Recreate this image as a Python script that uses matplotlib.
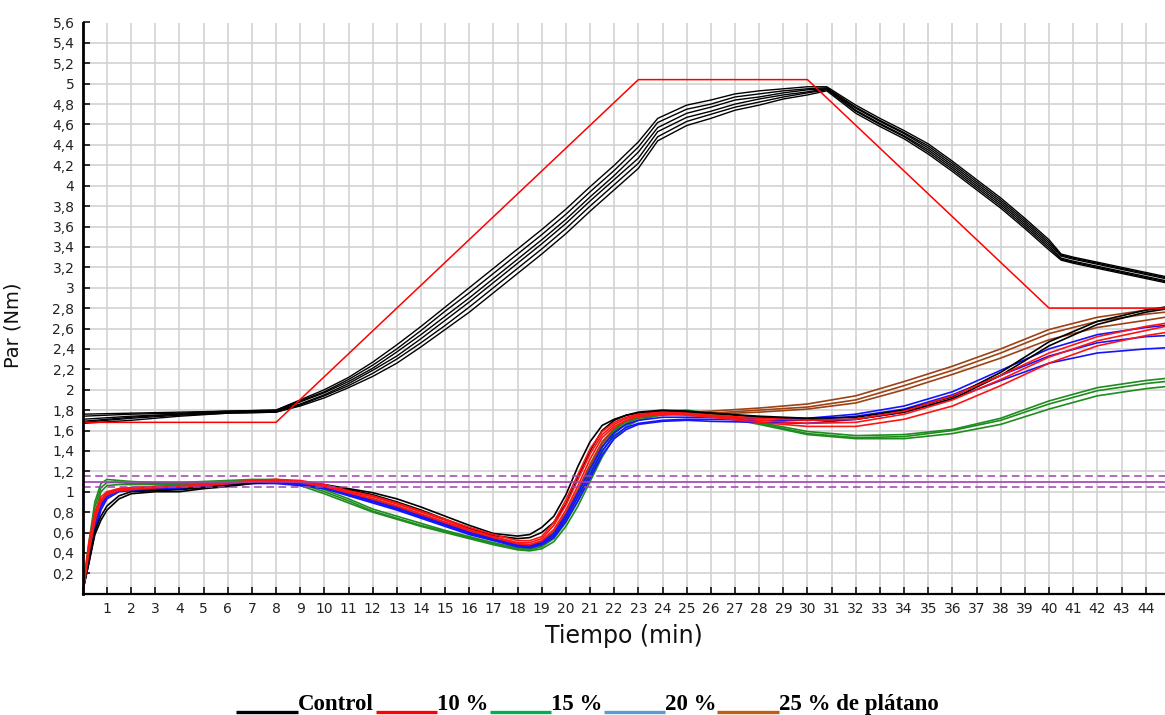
"""Mixolab torque curves: control and banana flour blends."""

import matplotlib

matplotlib.use("Agg")
from matplotlib import pyplot as plt
from matplotlib.lines import Line2D
from matplotlib.ticker import FuncFormatter, MultipleLocator

# red temperature/limit profile
PROFILE_X = [0, 8, 23, 30, 40, 44.8]
PROFILE_Y = [1.68, 1.68, 5.04, 5.04, 2.80, 2.80]

# purple target band (centre and limits)
TARGET = 1.10
TARGET_LIMITS = [1.15, 1.05]

# upper black band (replicates)
UPPER_X = [0, 2, 4, 6, 8, 9, 10, 11, 12, 13, 14, 15, 16, 17, 18, 19, 20, 21, 22, 23, 23.8,
           25, 26, 27, 28, 29, 30, 30.8, 32, 33, 34, 35, 36, 37, 38, 39, 40, 40.5, 41, 42,
           43, 44, 44.8]
UPPER_RUNS = [
    [1.76, 1.77, 1.78, 1.79, 1.80, 1.90, 2.00, 2.12, 2.27, 2.44, 2.62, 2.81, 3.00, 3.19, 3.38,
     3.57, 3.77, 3.99, 4.20, 4.43, 4.66, 4.79, 4.84, 4.90, 4.93, 4.95, 4.97, 4.97, 4.79, 4.66,
     4.54, 4.41, 4.24, 4.06, 3.88, 3.68, 3.47, 3.33, 3.30, 3.25, 3.20, 3.15, 3.11],
    [1.74, 1.76, 1.77, 1.79, 1.80, 1.89, 1.98, 2.10, 2.24, 2.40, 2.58, 2.77, 2.95, 3.14, 3.33,
     3.52, 3.72, 3.94, 4.15, 4.38, 4.62, 4.75, 4.80, 4.87, 4.90, 4.93, 4.95, 4.96, 4.77, 4.64,
     4.52, 4.39, 4.22, 4.04, 3.86, 3.66, 3.45, 3.32, 3.29, 3.24, 3.19, 3.14, 3.10],
    [1.71, 1.74, 1.76, 1.78, 1.79, 1.88, 1.97, 2.08, 2.21, 2.37, 2.54, 2.72, 2.90, 3.09, 3.28,
     3.47, 3.67, 3.89, 4.10, 4.33, 4.57, 4.71, 4.77, 4.84, 4.87, 4.91, 4.94, 4.95, 4.76, 4.63,
     4.51, 4.37, 4.20, 4.02, 3.84, 3.64, 3.43, 3.31, 3.28, 3.23, 3.18, 3.13, 3.09],
    [1.69, 1.73, 1.76, 1.78, 1.79, 1.86, 1.95, 2.06, 2.19, 2.33, 2.50, 2.68, 2.86, 3.05, 3.24,
     3.43, 3.63, 3.85, 4.06, 4.27, 4.53, 4.67, 4.73, 4.80, 4.85, 4.89, 4.92, 4.95, 4.74, 4.61,
     4.49, 4.35, 4.18, 4.00, 3.82, 3.62, 3.41, 3.29, 3.26, 3.21, 3.16, 3.11, 3.07],
    [1.68, 1.72, 1.75, 1.77, 1.78, 1.85, 1.94, 2.04, 2.16, 2.30, 2.46, 2.63, 2.81, 3.00, 3.19,
     3.38, 3.58, 3.80, 4.01, 4.22, 4.48, 4.63, 4.70, 4.77, 4.82, 4.87, 4.91, 4.94, 4.73, 4.60,
     4.48, 4.33, 4.16, 3.98, 3.80, 3.60, 3.39, 3.28, 3.25, 3.20, 3.15, 3.10, 3.06],
    [1.67, 1.70, 1.74, 1.77, 1.78, 1.84, 1.92, 2.02, 2.13, 2.26, 2.42, 2.59, 2.76, 2.95, 3.14,
     3.33, 3.53, 3.75, 3.96, 4.17, 4.44, 4.59, 4.66, 4.74, 4.79, 4.85, 4.89, 4.93, 4.71, 4.58,
     4.46, 4.31, 4.14, 3.96, 3.78, 3.58, 3.37, 3.27, 3.24, 3.19, 3.14, 3.09, 3.05],
]

# lower torque curves, three replicates per blend (two for control)
LOWER_X = [0, 0.25, 0.5, 0.75, 1, 1.5, 2, 3, 4, 5, 6, 7, 8, 9, 10, 11, 12, 13, 14, 15, 16, 17,
           18, 18.5, 19, 19.5, 20, 20.5, 21, 21.5, 22, 22.5, 23, 24, 25, 26, 28, 30, 32, 34,
           36, 38, 40, 42, 44, 44.8]

CONTROL_RUNS = [
    [0.03, 0.30, 0.58, 0.72, 0.82, 0.93, 0.98, 1.00, 1.00, 1.03, 1.05, 1.08, 1.10, 1.10, 1.07,
     1.03, 0.99, 0.93, 0.85, 0.76, 0.67, 0.59, 0.565, 0.58, 0.65, 0.76, 0.97, 1.25, 1.49, 1.65,
     1.71, 1.75, 1.77, 1.79, 1.78, 1.77, 1.74, 1.72, 1.73, 1.80, 1.93, 2.17, 2.47, 2.67, 2.78,
     2.81],
    [0.03, 0.32, 0.62, 0.76, 0.86, 0.96, 1.00, 1.01, 1.02, 1.04, 1.06, 1.09, 1.11, 1.10, 1.06,
     1.02, 0.97, 0.90, 0.82, 0.73, 0.64, 0.57, 0.54, 0.55, 0.60, 0.70, 0.88, 1.14, 1.40, 1.60,
     1.70, 1.75, 1.78, 1.80, 1.79, 1.77, 1.73, 1.70, 1.71, 1.78, 1.91, 2.14, 2.43, 2.64, 2.76,
     2.79],
]
RUNS_10 = [
    [0.00, 0.50, 0.80, 0.95, 1.00, 1.03, 1.04, 1.05, 1.06, 1.07, 1.09, 1.11, 1.12, 1.11, 1.07,
     1.01, 0.96, 0.89, 0.81, 0.73, 0.65, 0.58, 0.52, 0.52, 0.56, 0.70, 0.92, 1.17, 1.42, 1.59,
     1.68, 1.73, 1.76, 1.78, 1.77, 1.75, 1.72, 1.70, 1.71, 1.79, 1.94, 2.14, 2.36, 2.52, 2.62,
     2.65],
    [0.00, 0.45, 0.76, 0.92, 0.98, 1.02, 1.03, 1.04, 1.05, 1.07, 1.08, 1.10, 1.12, 1.10, 1.06,
     1.00, 0.95, 0.88, 0.80, 0.72, 0.63, 0.56, 0.50, 0.50, 0.54, 0.67, 0.87, 1.12, 1.37, 1.56,
     1.66, 1.72, 1.75, 1.77, 1.76, 1.74, 1.70, 1.67, 1.68, 1.76, 1.90, 2.10, 2.32, 2.48, 2.58,
     2.62],
    [0.00, 0.40, 0.72, 0.90, 0.97, 1.01, 1.02, 1.04, 1.05, 1.06, 1.08, 1.10, 1.11, 1.09, 1.05,
     0.99, 0.93, 0.86, 0.78, 0.70, 0.62, 0.55, 0.49, 0.48, 0.52, 0.63, 0.82, 1.06, 1.32, 1.53,
     1.64, 1.70, 1.74, 1.76, 1.75, 1.73, 1.68, 1.64, 1.64, 1.71, 1.84, 2.04, 2.26, 2.43, 2.53,
     2.56],
]
RUNS_15 = [
    [0.05, 0.50, 0.90, 1.08, 1.12, 1.11, 1.10, 1.09, 1.09, 1.10, 1.11, 1.12, 1.12, 1.09, 1.02,
     0.93, 0.83, 0.76, 0.69, 0.62, 0.56, 0.50, 0.45, 0.44, 0.47, 0.56, 0.73, 0.95, 1.19, 1.43,
     1.60, 1.70, 1.75, 1.79, 1.80, 1.77, 1.68, 1.59, 1.55, 1.56, 1.61, 1.72, 1.89, 2.02, 2.09,
     2.11],
    [0.05, 0.45, 0.85, 1.04, 1.09, 1.09, 1.08, 1.08, 1.08, 1.09, 1.10, 1.11, 1.11, 1.08, 1.00,
     0.91, 0.81, 0.74, 0.67, 0.61, 0.55, 0.49, 0.44, 0.43, 0.46, 0.54, 0.70, 0.91, 1.15, 1.39,
     1.57, 1.67, 1.73, 1.78, 1.79, 1.76, 1.67, 1.57, 1.53, 1.54, 1.60, 1.70, 1.86, 1.99, 2.06,
     2.08],
    [0.05, 0.40, 0.78, 1.00, 1.06, 1.07, 1.07, 1.07, 1.07, 1.08, 1.09, 1.10, 1.10, 1.06, 0.98,
     0.89, 0.80, 0.73, 0.66, 0.60, 0.54, 0.48, 0.43, 0.42, 0.44, 0.51, 0.66, 0.86, 1.10, 1.34,
     1.53, 1.64, 1.70, 1.76, 1.78, 1.75, 1.66, 1.56, 1.52, 1.52, 1.57, 1.66, 1.81, 1.94, 2.01,
     2.03],
]
RUNS_20 = [
    [0.03, 0.35, 0.65, 0.88, 0.97, 1.02, 1.03, 1.04, 1.05, 1.06, 1.08, 1.10, 1.10, 1.08, 1.05,
     0.98, 0.91, 0.84, 0.76, 0.68, 0.60, 0.54, 0.48, 0.47, 0.50, 0.59, 0.77, 0.99, 1.22, 1.44,
     1.58, 1.66, 1.70, 1.73, 1.73, 1.73, 1.72, 1.72, 1.76, 1.84, 1.98, 2.19, 2.40, 2.54, 2.61,
     2.63],
    [0.03, 0.32, 0.62, 0.85, 0.95, 1.01, 1.02, 1.03, 1.04, 1.05, 1.07, 1.09, 1.09, 1.07, 1.04,
     0.97, 0.90, 0.83, 0.75, 0.67, 0.59, 0.53, 0.47, 0.46, 0.49, 0.57, 0.74, 0.95, 1.17, 1.40,
     1.55, 1.63, 1.67, 1.70, 1.71, 1.71, 1.70, 1.70, 1.74, 1.81, 1.95, 2.14, 2.33, 2.46, 2.52,
     2.53],
    [0.03, 0.30, 0.60, 0.82, 0.93, 1.00, 1.01, 1.02, 1.03, 1.04, 1.06, 1.08, 1.08, 1.06, 1.03,
     0.96, 0.89, 0.82, 0.74, 0.66, 0.58, 0.52, 0.46, 0.45, 0.48, 0.55, 0.71, 0.91, 1.13, 1.36,
     1.52, 1.61, 1.66, 1.69, 1.70, 1.69, 1.68, 1.67, 1.71, 1.78, 1.91, 2.09, 2.26, 2.36, 2.40,
     2.41],
]
RUNS_25 = [
    [0.03, 0.42, 0.75, 0.92, 0.99, 1.03, 1.04, 1.05, 1.06, 1.07, 1.08, 1.10, 1.11, 1.09, 1.05,
     0.99, 0.93, 0.86, 0.78, 0.70, 0.62, 0.55, 0.49, 0.48, 0.51, 0.61, 0.79, 1.02, 1.27, 1.49,
     1.62, 1.70, 1.74, 1.77, 1.78, 1.79, 1.82, 1.86, 1.94, 2.08, 2.23, 2.40, 2.59, 2.71, 2.78,
     2.80],
    [0.03, 0.40, 0.73, 0.90, 0.98, 1.02, 1.03, 1.05, 1.06, 1.07, 1.08, 1.10, 1.11, 1.09, 1.05,
     0.98, 0.92, 0.85, 0.77, 0.69, 0.61, 0.54, 0.48, 0.47, 0.50, 0.60, 0.78, 1.00, 1.25, 1.47,
     1.61, 1.69, 1.73, 1.76, 1.77, 1.77, 1.80, 1.83, 1.90, 2.04, 2.19, 2.36, 2.55, 2.67, 2.74,
     2.76],
    [0.03, 0.38, 0.70, 0.88, 0.97, 1.01, 1.03, 1.04, 1.05, 1.06, 1.07, 1.09, 1.10, 1.08, 1.04,
     0.97, 0.91, 0.84, 0.76, 0.68, 0.60, 0.53, 0.47, 0.46, 0.49, 0.58, 0.75, 0.97, 1.22, 1.44,
     1.59, 1.67, 1.72, 1.75, 1.76, 1.76, 1.78, 1.81, 1.87, 2.00, 2.15, 2.31, 2.49, 2.61, 2.68,
     2.71],
]

LEGEND_LABELS = ["Control", "10 %", "15 %", "20 %", "25 % de plátano"]
LEGEND_COLORS = ["#000000", "#ff0000", "#00b050", "#5b9bd5", "#c55a11"]

W, H = 1165, 715
fig = plt.figure(figsize=(W / 100, H / 100), dpi=100)
ax = fig.add_axes([82.8 / W, 1 - 593.7 / H, (W - 82.8) / W, (593.7 - 22.5) / H])

# draw order: brown, green, blue, control, red on top
for runs, color in [(RUNS_25, "#9c4214"), (RUNS_15, "#1e8c1e"), (RUNS_20, "#1414ff"),
                    (CONTROL_RUNS, "#000000"), (RUNS_10, "#ff1414")]:
    for run in runs:
        ax.plot(LOWER_X, run, color=color, linewidth=1.2)

for run in UPPER_RUNS:
    ax.plot(UPPER_X, run, color="black", linewidth=1.0)

ax.plot(PROFILE_X, PROFILE_Y, color="#ff0000", linewidth=1.1)

ax.axhline(TARGET, color="#a040b0", linewidth=1.2)
for lim in TARGET_LIMITS:
    ax.axhline(lim, color="#a040b0", linewidth=1.1, dashes=(5, 3))

ax.set_xlim(0, 44.8)
ax.set_ylim(0, 5.6)
ax.xaxis.set_major_locator(MultipleLocator(1))
ax.yaxis.set_major_locator(MultipleLocator(0.2))


def _comma(value, _pos):
    if value < 0.05:
        return ""
    text = f"{value:.1f}".rstrip("0").rstrip(".")
    return text.replace(".", ",")


def _minute(value, _pos):
    if value < 0.5 or value > 44.5:
        return ""
    return f"{value:.0f}"


ax.yaxis.set_major_formatter(FuncFormatter(_comma))
ax.xaxis.set_major_formatter(FuncFormatter(_minute))
ax.tick_params(direction="in", length=5, width=1.1, labelsize=10, labelcolor="#222222", pad=6)
ax.grid(True, color="#d2d2d2", linewidth=1.2)
ax.set_axisbelow(True)
for side in ("top", "right"):
    ax.spines[side].set_visible(False)
ax.spines["left"].set_linewidth(2.0)
ax.spines["bottom"].set_linewidth(1.6)

ax.set_xlabel("Tiempo (min)", fontsize=17, color="#111111", labelpad=6)
ax.set_ylabel("Par (Nm)", fontsize=14, color="#111111")
ax.yaxis.set_label_coords(-0.056, 0.47)

# legend row: coloured bar under the baseline, then bold serif label
handle_starts = [236, 376, 490, 604, 717]
text_starts = [298, 437, 551, 665, 779]
for label, color, x0, x1 in zip(LEGEND_LABELS, LEGEND_COLORS, handle_starts, text_starts):
    fig.add_artist(Line2D([x0 / W, x1 / W], [1 - 712 / H] * 2, color=color, linewidth=2.4,
                          solid_capstyle="butt"))
    fig.text(x1 / W, 1 - 710 / H, label, fontsize=16.5, fontweight="bold",
             family="Liberation Serif", va="baseline", ha="left")

fig.savefig("out.png", dpi=100)
